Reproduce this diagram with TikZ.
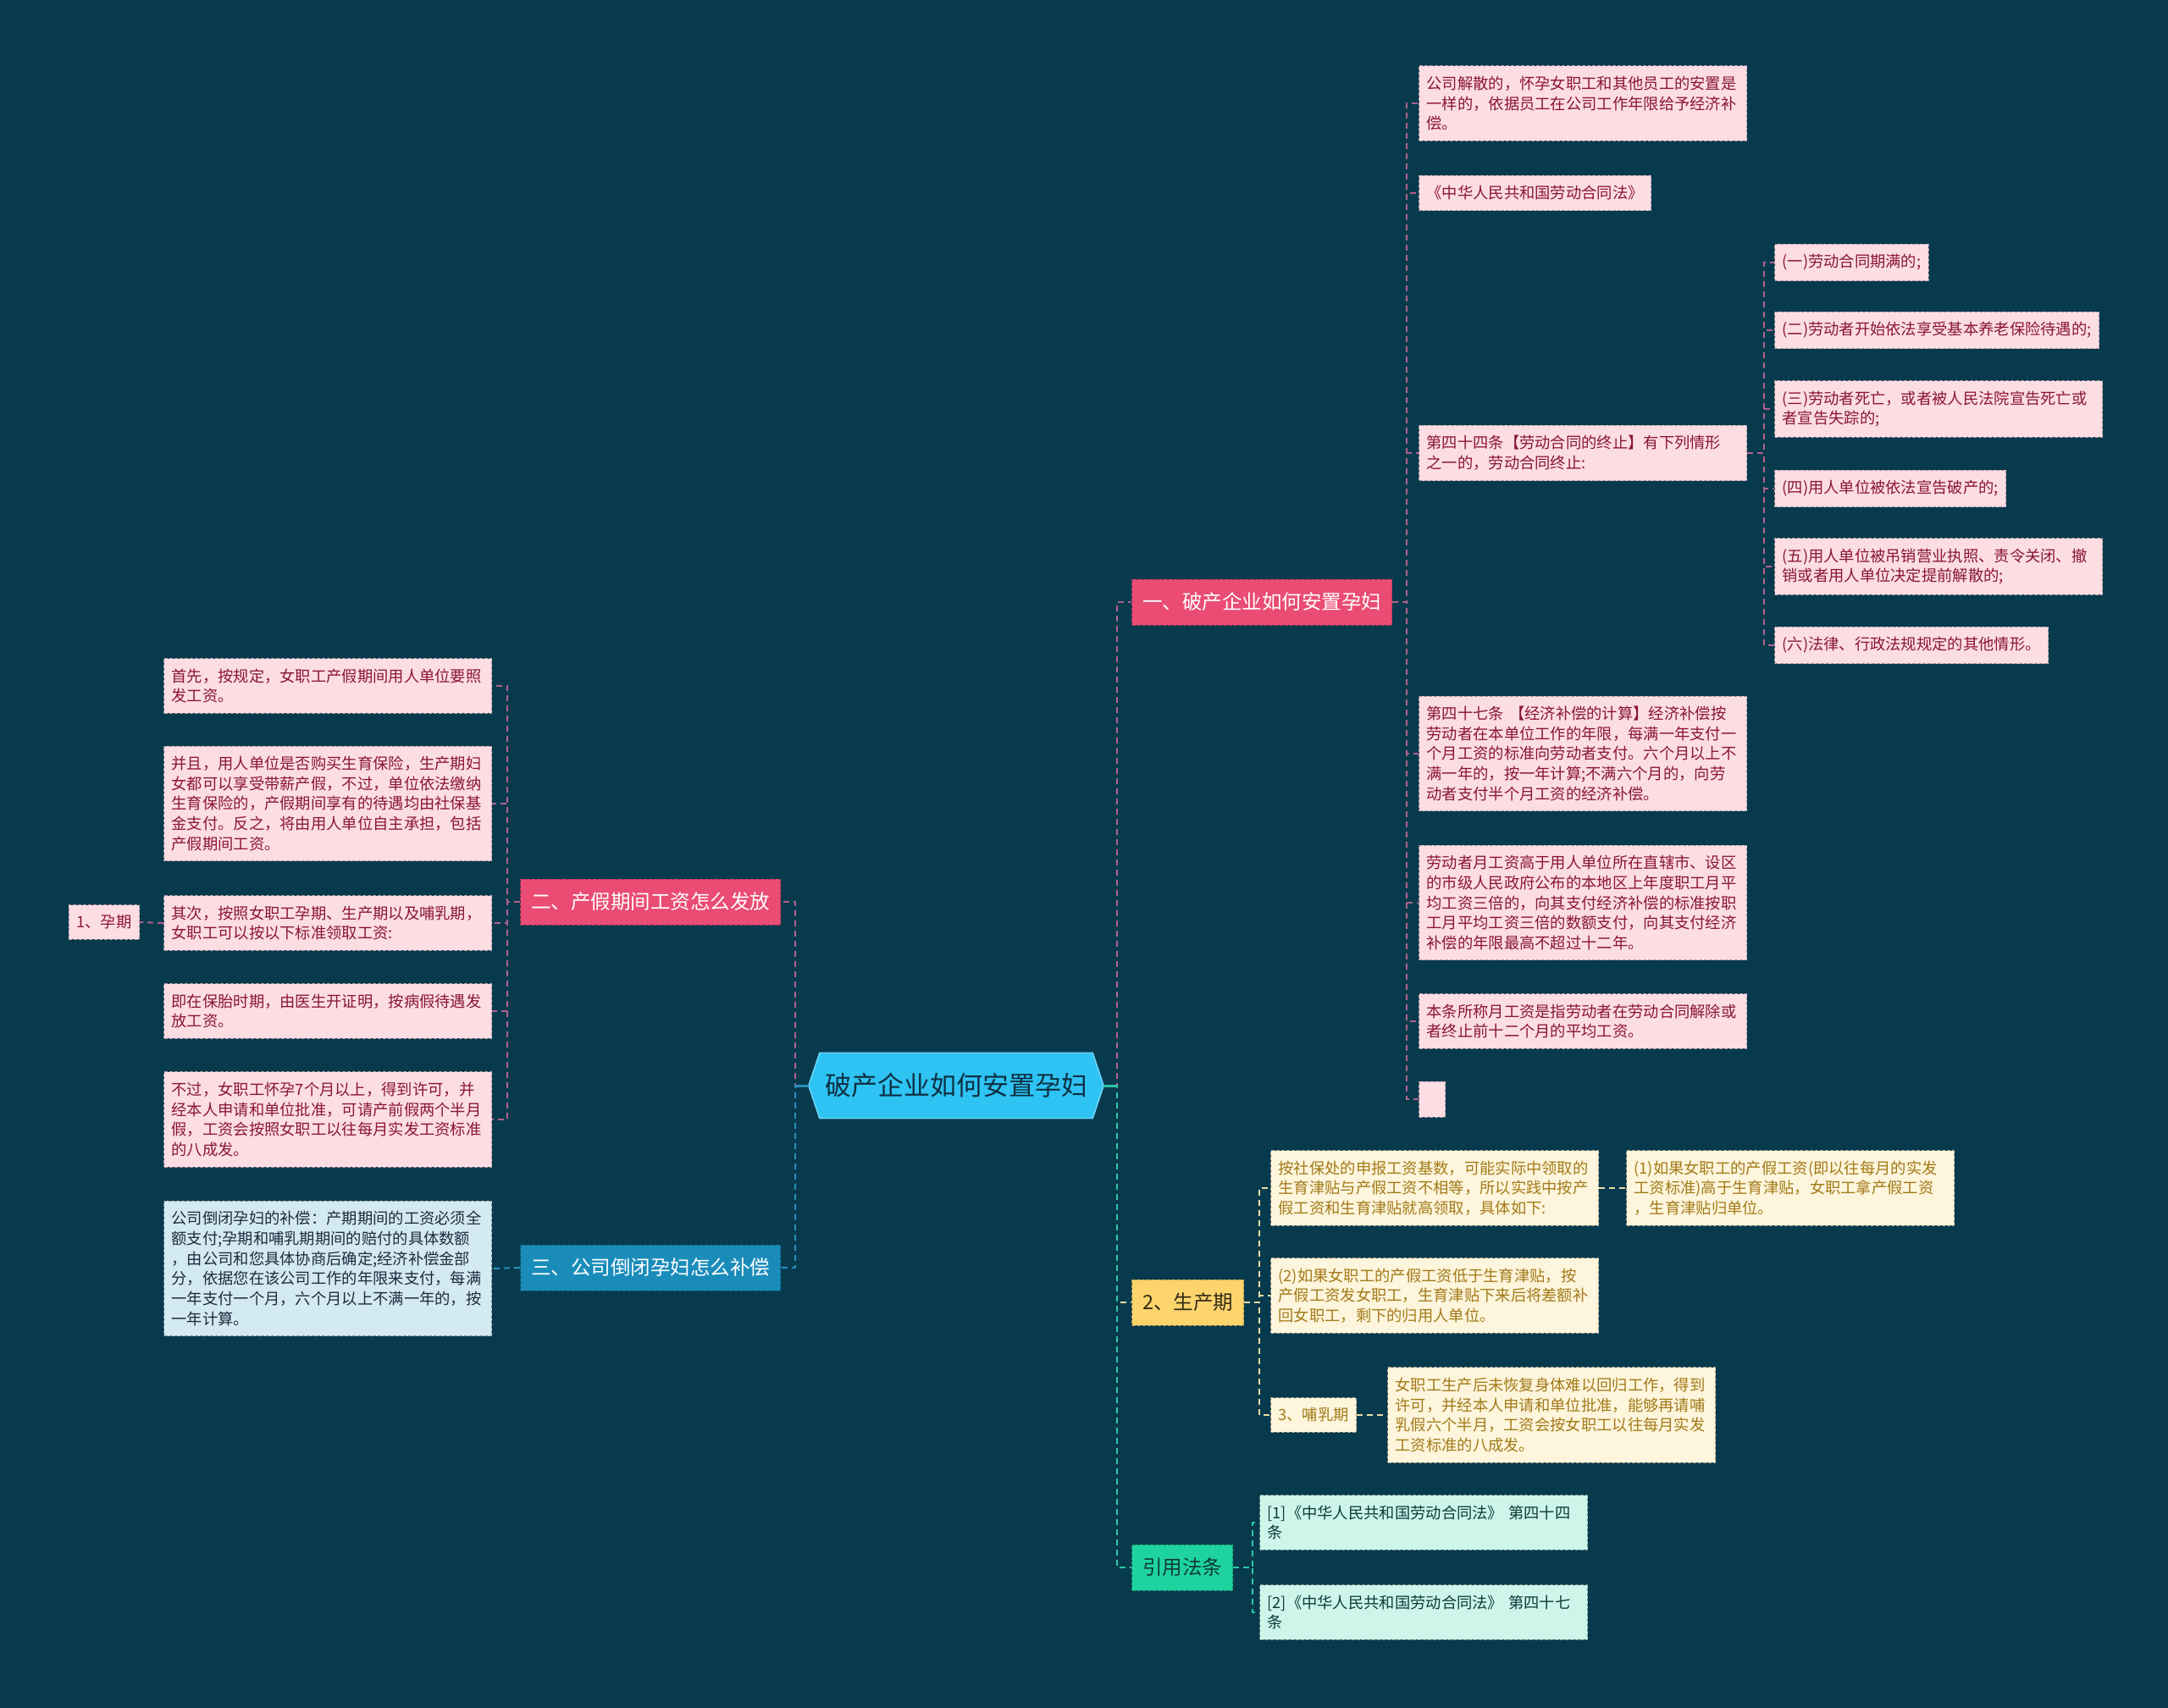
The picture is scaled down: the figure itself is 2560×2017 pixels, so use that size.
\documentclass[tikz,border=0pt]{standalone}
\usepackage{fontspec}
\newfontfamily\cjk{Noto Sans CJK SC}
\usetikzlibrary{backgrounds}
\definecolor{bg}{HTML}{083A4E}
\definecolor{ctrfill}{HTML}{2EC3F3}
\definecolor{ctrline}{HTML}{6AD6F8}
\definecolor{ctrtext}{HTML}{0D3043}
\definecolor{pinkbr}{HTML}{EA4C73}
\definecolor{pinkleaf}{HTML}{FCDDE4}
\definecolor{pinktext}{HTML}{8A1538}
\definecolor{pinkcon}{HTML}{B2628C}
\definecolor{yelbr}{HTML}{FCD46C}
\definecolor{yelleaf}{HTML}{FDF5DC}
\definecolor{yeltext}{HTML}{A37A18}
\definecolor{yelcon}{HTML}{EADCA6}
\definecolor{grnbr}{HTML}{1FD3A0}
\definecolor{grnleaf}{HTML}{CDF5EA}
\definecolor{grntext}{HTML}{0D3B3B}
\definecolor{grncon}{HTML}{2CC8A4}
\definecolor{blubr}{HTML}{1A8CBA}
\definecolor{bluleaf}{HTML}{D4EAF2}
\definecolor{blutext}{HTML}{1C2C3C}
\definecolor{blucon}{HTML}{2A8FBB}
\tikzset{
  leafbase/.style={dash pattern=on 4pt off 2pt, line width=1pt, inner xsep=9pt, inner ysep=12pt,
    font=\cjk\fontsize{18.3}{23.7}\selectfont, align=left},
  wbox/.style={text width=369pt},
  pleaf/.style={leafbase, fill=pinkleaf, draw=pinkleaf!70!black, text=pinktext},
  yleaf/.style={leafbase, fill=yelleaf, draw=yelleaf!65!black, text=yeltext},
  gleaf/.style={leafbase, fill=grnleaf, draw=grnleaf!60!black, text=grntext},
  bleaf/.style={leafbase, fill=bluleaf, draw=bluleaf!60!black, text=blutext},
  brbase/.style={dash pattern=on 4pt off 2pt, line width=1pt, inner xsep=12.5pt, inner ysep=0pt,
    minimum height=54pt, font=\cjk\fontsize{23.5}{28}\selectfont},
  brP/.style={brbase, fill=pinkbr, draw=pinkbr!75!black, text=white},
  brY/.style={brbase, fill=yelbr, draw=yelbr!70!black, text=black!80!yelbr},
  brG/.style={brbase, fill=grnbr, draw=grnbr!70!black, text=grntext},
  brB/.style={brbase, fill=blubr, draw=blubr!70!black, text=white},
  conbase/.style={line width=2pt, dash pattern=on 7pt off 5pt},
  conP/.style={conbase, draw=pinkcon},
  conY/.style={conbase, draw=yelcon},
  conG/.style={conbase, draw=grncon},
  conB/.style={conbase, draw=blucon},
}
\begin{document}
\begin{tikzpicture}[x=1pt,y=-1pt]
\begin{scope}[on background layer]
\fill[bg] (0,0) rectangle (2560,2017);
\end{scope}
\useasboundingbox (0,0) rectangle (2560,2017);

% central
\node[font=\cjk\fontsize{31}{36}\selectfont, text=ctrtext, minimum width=348pt, minimum height=77pt, inner sep=0pt] (ctr) at (1129,1282) {破产企业如何安置孕妇};
\begin{scope}[on background layer]
\filldraw[fill=ctrfill, draw=ctrline, line width=1.5pt] (ctr.west) -- ([xshift=13pt]ctr.north west) -- ([xshift=-13pt]ctr.north east) -- (ctr.east) -- ([xshift=-13pt]ctr.south east) -- ([xshift=13pt]ctr.south west) -- cycle;
\end{scope}

% branches
\node[brP, anchor=west] (br1) at (1336,711) {一、破产企业如何安置孕妇};
\node[brY, anchor=west] (brY) at (1336,1538) {2、生产期};
\node[brG, anchor=west] (brG) at (1336,1851) {引用法条};
\node[brP, anchor=east] (br2) at (922,1065) {二、产假期间工资怎么发放};
\node[brB, anchor=east] (br3) at (922,1497) {三、公司倒闭孕妇怎么补偿};

% branch 1 children
\node[pleaf, wbox, anchor=west] (c1) at (1675,122) {公司解散的，怀孕女职工和其他员工的安置是\\一样的，依据员工在公司工作年限给予经济补\\偿。};
\node[pleaf, anchor=west] (c2) at (1675,228) {《中华人民共和国劳动合同法》};
\node[pleaf, wbox, anchor=west] (c3) at (1675,535) {第四十四条【劳动合同的终止】有下列情形\\之一的，劳动合同终止:};
\node[pleaf, wbox, anchor=west] (c4) at (1675,890) {第四十七条 【经济补偿的计算】经济补偿按\\劳动者在本单位工作的年限，每满一年支付一\\个月工资的标准向劳动者支付。六个月以上不\\满一年的，按一年计算;不满六个月的，向劳\\动者支付半个月工资的经济补偿。};
\node[pleaf, wbox, anchor=west] (c5) at (1675,1066) {劳动者月工资高于用人单位所在直辖市、设区\\的市级人民政府公布的本地区上年度职工月平\\均工资三倍的，向其支付经济补偿的标准按职\\工月平均工资三倍的数额支付，向其支付经济\\补偿的年限最高不超过十二年。};
\node[pleaf, wbox, anchor=west] (c6) at (1675,1206) {本条所称月工资是指劳动者在劳动合同解除或\\者终止前十二个月的平均工资。};
\node[pleaf, anchor=west, minimum width=31pt, minimum height=42pt, inner sep=0pt] (c7) at (1675,1298) {};

% article 44 items
\node[pleaf, anchor=west] (b1) at (2095,310) {(一)劳动合同期满的;};
\node[pleaf, anchor=west] (b2) at (2095,390) {(二)劳动者开始依法享受基本养老保险待遇的;};
\node[pleaf, wbox, anchor=west] (b3) at (2095,483) {(三)劳动者死亡，或者被人民法院宣告死亡或\\者宣告失踪的;};
\node[pleaf, anchor=west] (b4) at (2095,577) {(四)用人单位被依法宣告破产的;};
\node[pleaf, wbox, anchor=west] (b5) at (2095,669) {(五)用人单位被吊销营业执照、责令关闭、撤\\销或者用人单位决定提前解散的;};
\node[pleaf, anchor=west] (b6) at (2095,762) {(六)法律、行政法规规定的其他情形。};

% production period
\node[yleaf, wbox, anchor=west] (y1) at (1500,1403) {按社保处的申报工资基数，可能实际中领取的\\生育津贴与产假工资不相等，所以实践中按产\\假工资和生育津贴就高领取，具体如下:};
\node[yleaf, wbox, anchor=west] (y1c) at (1920,1403) {(1)如果女职工的产假工资(即以往每月的实发\\工资标准)高于生育津贴，女职工拿产假工资\\，生育津贴归单位。};
\node[yleaf, wbox, anchor=west] (y2) at (1500,1530) {(2)如果女职工的产假工资低于生育津贴，按\\产假工资发女职工，生育津贴下来后将差额补\\回女职工，剩下的归用人单位。};
\node[yleaf, anchor=west] (y3) at (1500,1671) {3、哺乳期};
\node[yleaf, wbox, anchor=west] (y3c) at (1638,1671) {女职工生产后未恢复身体难以回归工作，得到\\许可，并经本人申请和单位批准，能够再请哺\\乳假六个半月，工资会按女职工以往每月实发\\工资标准的八成发。};

% cited law
\node[gleaf, wbox, anchor=west] (r1) at (1487,1798) {[1]《中华人民共和国劳动合同法》 第四十四\\条};
\node[gleaf, wbox, anchor=west] (r2) at (1487,1904) {[2]《中华人民共和国劳动合同法》 第四十七\\条};

% left: branch 2 children
\node[pleaf, wbox, anchor=east] (l1) at (581,810) {首先，按规定，女职工产假期间用人单位要照\\发工资。};
\node[pleaf, wbox, anchor=east] (l2) at (581,949) {并且，用人单位是否购买生育保险，生产期妇\\女都可以享受带薪产假，不过，单位依法缴纳\\生育保险的，产假期间享有的待遇均由社保基\\金支付。反之，将由用人单位自主承担，包括\\产假期间工资。};
\node[pleaf, wbox, anchor=east] (l3) at (581,1090) {其次，按照女职工孕期、生产期以及哺乳期，\\女职工可以按以下标准领取工资:};
\node[pleaf, anchor=east] (l3c) at (165,1089) {1、孕期};
\node[pleaf, wbox, anchor=east] (l4) at (581,1194) {即在保胎时期，由医生开证明，按病假待遇发\\放工资。};
\node[pleaf, wbox, anchor=east] (l5) at (581,1322) {不过，女职工怀孕7个月以上，得到许可，并\\经本人申请和单位批准，可请产前假两个半月\\假，工资会按照女职工以往每月实发工资标准\\的八成发。};

% left: branch 3 child
\node[bleaf, wbox, anchor=east] (lb) at (581,1498) {公司倒闭孕妇的补偿：产期期间的工资必须全\\额支付;孕期和哺乳期期间的赔付的具体数额\\，由公司和您具体协商后确定;经济补偿金部\\分，依据您在该公司工作的年限来支付，每满\\一年支付一个月，六个月以上不满一年的，按\\一年计算。};

% connectors: central
\draw[conP] (ctr.east) -- ++(16,0) |- (br1.west);
\draw[conY] (ctr.east) -- ++(16,0) |- (brY.west);
\draw[conG] (ctr.east) -- ++(16,0) |- (brG.west);
\draw[conP] (ctr.west) -- ++(-16,0) |- (br2.east);
\draw[conB] (ctr.west) -- ++(-16,0) |- (br3.east);
\draw[line width=3pt, grncon] (ctr.east) -- ++(16,0);
\draw[line width=3pt, blucon] (ctr.west) -- ++(-16,0);

% branch 1
\foreach \n in {c1,c2,c3,c4,c5,c6,c7} {\draw[conP] (br1.east) -- ++(17,0) |- (\n.west);}
\foreach \n in {b1,b2,b3,b4,b5,b6} {\draw[conP] (c3.east) -- ++(20,0) |- (\n.west);}

% production period
\foreach \n in {y1,y2,y3} {\draw[conY] (brY.east) -- ++(18,0) |- (\n.west);}
\draw[conY] (y1.east) -- (y1c.west);
\draw[conY] (y3.east) -- (y3c.west);

% cited law
\foreach \n in {r1,r2} {\draw[conG] (brG.east) -- ++(23,0) |- (\n.west);}

% left branches
\foreach \n in {l1,l2,l3,l4,l5} {\draw[conP] (br2.west) -- ++(-15,0) |- (\n.east);}
\draw[conP] (l3.west) -- (l3c.east);
\draw[conB] (br3.west) -- (lb.east);
\end{tikzpicture}
\end{document}
